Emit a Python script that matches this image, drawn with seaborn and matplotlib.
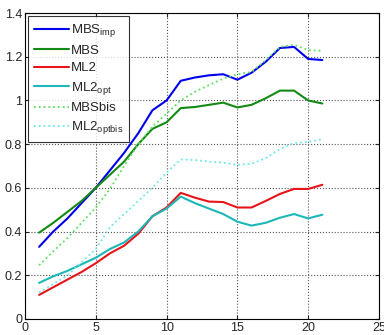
import numpy as np
import pandas as pd
import matplotlib
matplotlib.use('Agg')
import matplotlib.pyplot as plt
import seaborn as sns

x = list(range(1, 22))

mbs_imp = [0.33, 0.40, 0.46, 0.53, 0.60, 0.68, 0.76, 0.85, 0.955, 1.00, 1.09,
           1.105, 1.115, 1.12, 1.095, 1.127, 1.177, 1.24, 1.245, 1.19, 1.185]
mbs = [0.395, 0.44, 0.49, 0.54, 0.60, 0.66, 0.72, 0.80, 0.87, 0.90, 0.965,
       0.97, 0.98, 0.99, 0.968, 0.98, 1.01, 1.045, 1.045, 1.00, 0.986]
ml2 = [0.11, 0.145, 0.18, 0.215, 0.255, 0.30, 0.335, 0.39, 0.47, 0.51, 0.577,
       0.555, 0.537, 0.535, 0.51, 0.51, 0.54, 0.572, 0.595, 0.595, 0.614]
ml2_opt = [0.165, 0.195, 0.22, 0.25, 0.28, 0.32, 0.35, 0.40, 0.47, 0.505, 0.56,
           0.53, 0.505, 0.48, 0.445, 0.427, 0.44, 0.463, 0.48, 0.46, 0.477]
mbs_bis = [0.245, 0.31, 0.37, 0.44, 0.51, 0.595, 0.70, 0.80, 0.88, 0.94, 1.00,
           1.04, 1.07, 1.10, 1.12, 1.13, 1.185, 1.245, 1.255, 1.23, 1.227]
ml2_optbis = [0.12, 0.16, 0.20, 0.26, 0.32, 0.42, 0.48, 0.54, 0.60, 0.67, 0.73,
              0.727, 0.72, 0.715, 0.705, 0.71, 0.736, 0.777, 0.805, 0.81, 0.823]

labels = ['MBS$_{imp}$', 'MBS', 'ML2', 'ML2$_{opt}$', 'MBSbis', 'ML2$_{optbis}$']
series = [mbs_imp, mbs, ml2, ml2_opt, mbs_bis, ml2_optbis]
colors = ['#0000ee', '#138a13', '#e8141a', '#1cb8b8', '#5ee05e', '#6ee8e8']
styles = ['-', '-', '-', '-', ':', ':']
widths = [1.5, 1.5, 1.5, 1.5, 1.3, 1.3]

sns.set_style('white')
plt.rcParams['font.family'] = ['Liberation Sans', 'DejaVu Sans']
plt.rcParams['mathtext.default'] = 'regular'

fig = plt.figure(figsize=(3.84, 3.35), dpi=100)
ax = fig.add_axes([0.065, 0.048, 0.922, 0.913])

for ys, lab, c, ls, lw in zip(series, labels, colors, styles, widths):
    df = pd.DataFrame({'x': x, 'y': ys})
    sns.lineplot(data=df, x='x', y='y', ax=ax, color=c, linestyle=ls,
                 linewidth=lw, label=lab)

ax.set_xlim(0, 25)
ax.set_ylim(0, 1.4)
ax.set_xticks([0, 5, 10, 15, 20, 25])
ax.set_yticks([0, 0.2, 0.4, 0.6, 0.8, 1, 1.2, 1.4])
ax.set_yticklabels(['0', '0.2', '0.4', '0.6', '0.8', '1', '1.2', '1.4'])
ax.set_xlabel('')
ax.set_ylabel('')
ax.grid(True, linestyle=':', color='#555555', linewidth=0.8)
ax.tick_params(labelsize=9, direction='in', length=3, pad=2,
               top=True, right=True, bottom=True, left=True)
for s in ax.spines.values():
    s.set_color('black')
    s.set_linewidth(0.8)

leg = ax.legend(loc='upper left', fontsize=9.5, frameon=True, fancybox=False,
                edgecolor='black', handlelength=2.6, borderaxespad=0.25,
                labelspacing=0.4, handletextpad=0.2, borderpad=0.45)
leg.get_frame().set_linewidth(0.8)

fig.savefig('out.png', dpi=100)
